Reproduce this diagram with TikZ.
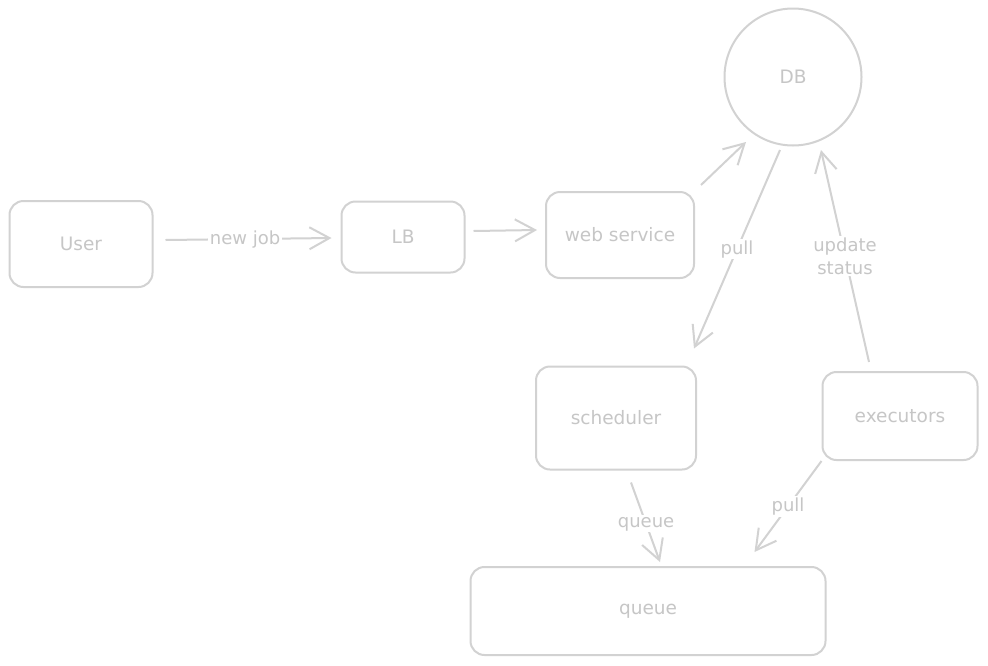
\documentclass[tikz,border=0pt]{standalone}
\usepackage{fontspec}
\setmainfont{DejaVu Sans}
\usetikzlibrary{arrows.meta,calc}
\definecolor{strokegray}{HTML}{D2D2D2}
\definecolor{textgray}{HTML}{C6C6C6}
\tikzset{
  box/.style={draw=strokegray, line width=2pt, rounded corners=14pt, text=textgray, font=\fontsize{18.5}{22}\selectfont},
  dbcircle/.style={draw=strokegray, line width=2pt, circle, minimum size=137pt, text=textgray, font=\fontsize{18.5}{22}\selectfont},
  conn/.style={draw=strokegray, line width=2pt, -{Straight Barb[length=20pt,width=22pt,line width=2pt]}},
  lbl/.style={fill=white, text=textgray, inner sep=1.5pt, font=\fontsize{18}{23}\selectfont, align=center}
}
\begin{document}
\begin{tikzpicture}[x=1pt,y=-1pt]
\useasboundingbox (0,0) rectangle (988,665);
\fill[white] (0,0) rectangle (988,665);
\node[box, minimum width=143pt, minimum height=86pt] (user) at (81,244) {User};
\node[box, minimum width=123pt, minimum height=71pt] (lb) at (403,237) {LB};
\node[box, minimum width=148pt, minimum height=86pt] (web) at (620,235) {web service};
\node[dbcircle] (db) at (793,77) {DB};
\node[box, minimum width=160pt, minimum height=103pt] (sched) at (616,418) {scheduler};
\node[box, minimum width=155pt, minimum height=88pt] (exec) at (900,416) {executors};
\node[box, minimum width=355pt, minimum height=88pt] (queue) at (648,611) {queue};

\draw[conn] ($(user.east)+(12,-4)$) -- node[lbl, pos=0.48] {new job} ($(lb.west)+(-9,1)$);
\draw[conn] ($(lb.east)+(8,-6)$) -- ($(web.west)+(-8,-5)$);
\draw[conn] ($(web.north east)+(6,-6)$) -- ($(db.center)+(-47,65)$);
\draw[conn] ($(db.center)+(-13,73)$) -- node[lbl, pos=0.5] {pull} ($(sched.north east)+(-3,-17)$);
\draw[conn] ($(exec.north)+(-31,-9)$) -- node[lbl, pos=0.5] {update\\status} ($(db.center)+(28,73)$);
\draw[conn] ($(sched.south)+(15,12)$) -- node[lbl, pos=0.52] {queue} ($(queue.north)+(12,-4)$);
\draw[conn] (exec.south west) -- node[lbl, pos=0.5] {pull} ($(queue.north east)+(-72,-14)$);
\end{tikzpicture}
\end{document}
